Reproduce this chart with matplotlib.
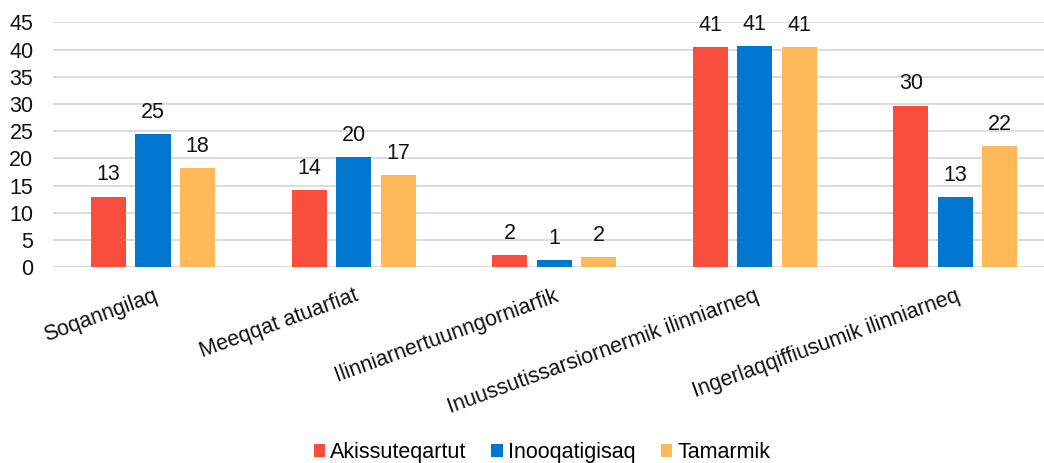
import numpy as np
import matplotlib
matplotlib.use("Agg")
import matplotlib.pyplot as plt
from matplotlib.patches import Patch

plt.rcParams["font.family"] = ["Liberation Sans", "DejaVu Sans"]

categories = [
    "Soqanngilaq",
    "Meeqqat atuarfiat",
    "Ilinniarnertuunngorniarfik",
    "Inuussutissarsiornermik ilinniarneq",
    "Ingerlaqqiffiusumik ilinniarneq",
]
series_names = ["Akissuteqartut", "Inooqatigisaq", "Tamarmik"]
akissuteqartut = [13.0, 14.2, 2.3, 40.4, 29.7]
inooqatigisaq = [24.5, 20.3, 1.3, 40.6, 12.9]
tamarmik = [18.2, 17.0, 1.9, 40.5, 22.2]
# rounded labels as printed on the chart
label_akissuteqartut = ["13", "14", "2", "41", "30"]
label_inooqatigisaq = ["25", "20", "1", "41", "13"]
label_tamarmik = ["18", "17", "2", "41", "22"]
y_ticks = [0, 5, 10, 15, 20, 25, 30, 35, 40, 45]

colors = ["#F94D3D", "#0076CE", "#FFB957"]
FS = 15.5


def main() -> None:
    fig = plt.figure(figsize=(10.44, 4.63), dpi=100)
    ax = fig.add_axes([52.7 / 1044, 1 - 267.3 / 463, 1003 / 1044, 245 / 463])

    x = np.arange(len(categories))
    width = 0.175
    step = 0.222
    all_values = [akissuteqartut, inooqatigisaq, tamarmik]
    all_labels = [label_akissuteqartut, label_inooqatigisaq, label_tamarmik]

    for i, (vals, labs) in enumerate(zip(all_values, all_labels)):
        pos = x + (i - 1) * step
        ax.bar(pos, vals, width=width, color=colors[i], zorder=3)
        for px, v, t in zip(pos, vals, labs):
            ax.annotate(t, (px, v), xytext=(0, 8), textcoords="offset points",
                        ha="center", va="bottom", fontsize=FS, color="#111111")

    ax.set_xlim(-0.5, len(categories) - 0.5)
    ax.set_ylim(0, 45)
    ax.set_yticks(y_ticks)
    ax.set_xticks(x)
    ax.set_xticklabels(categories, rotation=20, ha="right", rotation_mode="anchor")
    ax.tick_params(axis="both", length=0, labelsize=FS, labelcolor="#111111")
    ax.tick_params(axis="y", pad=14)
    ax.tick_params(axis="x", pad=13)
    ax.grid(axis="y", color="#D9D9D9", linewidth=1.3, zorder=0)
    for s in ax.spines.values():
        s.set_visible(False)

    handles = [Patch(facecolor=c, edgecolor="none") for c in colors]
    fig.legend(handles, series_names, loc="center",
               bbox_to_anchor=(542 / 1044, 0.022), ncol=3, frameon=False,
               fontsize=FS, handlelength=0.53, handleheight=0.53,
               handletextpad=0.25, columnspacing=1.15, borderaxespad=0)

    fig.savefig("out.png", dpi=100)
    plt.close(fig)


if __name__ == "__main__":
    main()
